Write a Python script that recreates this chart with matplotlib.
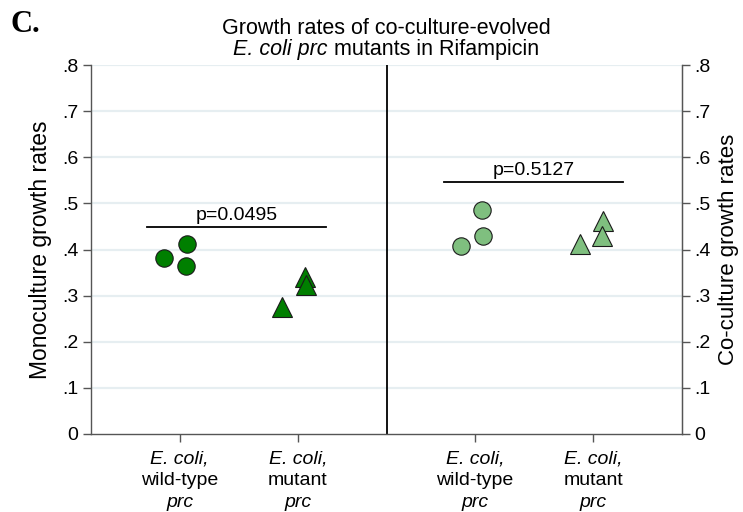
import matplotlib
matplotlib.use("Agg")
import matplotlib.pyplot as plt
import matplotlib.transforms as mtransforms
import numpy as np

plt.rcParams['font.family'] = ['Liberation Sans', 'DejaVu Sans']

# Data
tick_pos = [1, 2, 3.5, 4.5]
tick_line1 = ["E. coli,", "E. coli,", "E. coli,", "E. coli,"]
tick_line2 = ["wild-type", "mutant", "wild-type", "mutant"]
tick_line3 = ["prc", "prc", "prc", "prc"]

mono_wt_x = [0.87, 1.06, 1.05]
mono_wt_y = [0.382, 0.412, 0.365]
mono_mut_x = [1.87, 2.06, 2.07]
mono_mut_y = [0.275, 0.340, 0.323]

co_wt_x = [3.38, 3.56, 3.57]
co_wt_y = [0.408, 0.486, 0.429]
co_mut_x = [4.39, 4.58, 4.57]
co_mut_y = [0.412, 0.462, 0.429]

pvals = ["p=0.0495", "p=0.5127"]
p_line_x = [(0.72, 2.24), (3.24, 4.75)]
p_line_y = [0.449, 0.546]

yticks = [0, 0.1, 0.2, 0.3, 0.4, 0.5, 0.6, 0.7, 0.8]
ytick_labels = ["0", ".1", ".2", ".3", ".4", ".5", ".6", ".7", ".8"]

dark_green = "#007F00"
light_green = "#7FBF7F"
edge = "#1a1a1a"
axis_col = "#555555"

W, H = 743, 512
fig = plt.figure(figsize=(7.43, 5.12), dpi=100)
ax = fig.add_axes([91/W, 78/H, (682-91)/W, (434-65)/H])

ax.set_xlim(0.25, 5.25)
ax.set_ylim(0, 0.8)

for yv in yticks[1:]:
    ax.axhline(yv, color="#E6EEF1", lw=1.6, zorder=0)

ax.axvline(2.75, color="black", lw=1.3, zorder=1)

ax.plot(mono_wt_x, mono_wt_y, 'o', ms=12.5, mfc=dark_green, mec=edge, mew=0.8, ls='none', zorder=3)
ax.plot(mono_mut_x, mono_mut_y, '^', ms=14, mfc=dark_green, mec=edge, mew=0.8, ls='none', zorder=3)
ax.plot(co_wt_x, co_wt_y, 'o', ms=12.5, mfc=light_green, mec=edge, mew=0.8, ls='none', zorder=3)
ax.plot(co_mut_x, co_mut_y, '^', ms=14, mfc=light_green, mec=edge, mew=0.8, ls='none', zorder=3)

for (x0, x1), yv, txt in zip(p_line_x, p_line_y, pvals):
    ax.plot([x0, x1], [yv, yv], color="black", lw=1.3, zorder=2)
    ax.text((x0 + x1) / 2, yv + 0.007, txt, ha='center', va='bottom', fontsize=14)

ax.spines['top'].set_visible(False)
for s in ['left', 'right', 'bottom']:
    ax.spines[s].set_color(axis_col)
    ax.spines[s].set_linewidth(1.0)

ax.set_xticks(tick_pos)
ax.set_xticklabels([""] * len(tick_pos))
ax.set_yticks(yticks)
ax.set_yticklabels(ytick_labels, fontsize=14)
ax.tick_params(axis='both', direction='out', length=6, color=axis_col, width=1.0)
ax.tick_params(axis='y', pad=3)
ax.set_ylabel("Monoculture growth rates", fontsize=16.5, labelpad=7)

# multi-line x tick labels with mixed italic
blend = mtransforms.blended_transform_factory(ax.transData, ax.transAxes)
ax_h = 434 - 65
for xp, l1, l2, l3 in zip(tick_pos, tick_line1, tick_line2, tick_line3):
    ax.text(xp, -(463 - 434) / ax_h, l1, transform=blend, ha='center', va='baseline',
            fontsize=14, fontstyle='italic', clip_on=False)
    ax.text(xp, -(485 - 434) / ax_h, l2, transform=blend, ha='center', va='baseline',
            fontsize=14, clip_on=False)
    ax.text(xp, -(507 - 434) / ax_h, l3, transform=blend, ha='center', va='baseline',
            fontsize=14, fontstyle='italic', clip_on=False)

ax2 = ax.twinx()
ax2.set_ylim(0, 0.8)
ax2.set_yticks(yticks)
ax2.set_yticklabels(ytick_labels, fontsize=14)
ax2.tick_params(axis='y', direction='out', length=6, color=axis_col, width=1.0, pad=3)
for s in ['top', 'left', 'bottom']:
    ax2.spines[s].set_visible(False)
ax2.spines['right'].set_color(axis_col)
ax2.set_ylabel("Co-culture growth rates", fontsize=16, labelpad=5)

# Title
fig.text(386/W, 1 - 34/H, "Growth rates of co-culture-evolved", ha='center', va='baseline', fontsize=15.5)
renderer = fig.canvas.get_renderer()
t_it = fig.text(0, 1 - 55/H, "E. coli prc", ha='left', va='baseline', fontsize=15.5, fontstyle='italic')
t_rm = fig.text(0, 1 - 55/H, " mutants in Rifampicin", ha='left', va='baseline', fontsize=15.5)
w_it = t_it.get_window_extent(renderer).width
w_rm = t_rm.get_window_extent(renderer).width
x_start = 386 - (w_it + w_rm) / 2
t_it.set_x(x_start / W)
t_rm.set_x((x_start + w_it) / W)

fig.text(10/W, 1 - 24/H, "C.", ha='left', va='center', fontsize=22, fontweight='bold', family='Liberation Serif')

fig.savefig("out.png", dpi=100)
